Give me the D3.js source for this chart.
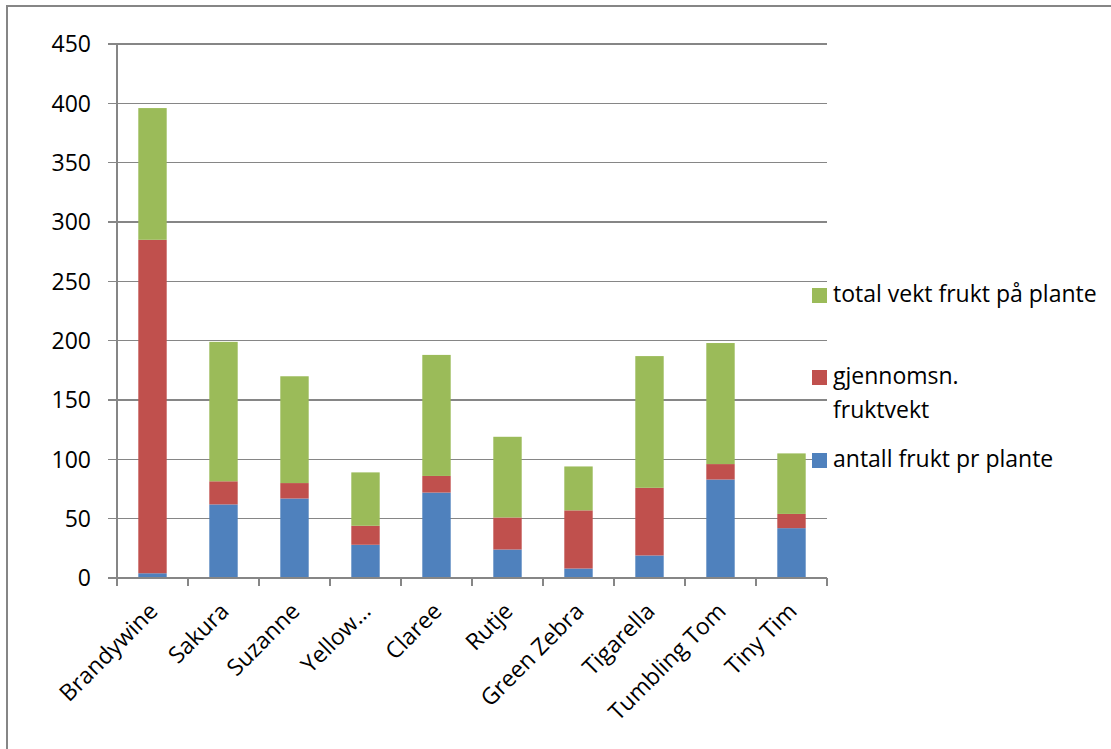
<!DOCTYPE html>
<html>
<head>
<meta charset="utf-8">
<script src="https://cdn.jsdelivr.net/npm/d3@7"></script>
<style>
  html, body { margin: 0; padding: 0; background: #fff; }
  svg { display: block; }
  text { font-family: "Open Sans", "Noto Sans", sans-serif; fill: #000; }
</style>
</head>
<body>
<svg id="chart" width="1111" height="749"></svg>
<script>
// Tomato varieties
const categories = ["Brandywine", "Sakura", "Suzanne", "Yellow…", "Claree", "Rutje", "Green Zebra", "Tigarella", "Tumbling Tom", "Tiny Tim"];
// Series (stacked bottom to top)
const antallFrukt = [4, 62, 67, 28, 72, 24, 8, 19, 83, 42];
const gjennomsnFruktvekt = [281, 19.5, 13, 16, 14, 27, 49, 57, 13, 12];
const totalVekt = [111, 117.5, 90, 45, 102, 68, 37, 111, 102, 51];
const seriesNames = ["antall frukt pr plante", "gjennomsn. fruktvekt", "total vekt frukt på plante"];
const seriesColors = ["#4F81BD", "#C0504D", "#9BBB59"];
const yTicks = [0, 50, 100, 150, 200, 250, 300, 350, 400, 450];

const svg = d3.select("#chart");
const W = 1111, H = 749;
const plot = { left: 117, right: 827, top: 44, bottom: 578 };
const gridColor = "#868686";

// Outer frame
svg.append("rect")
  .attr("x", 7).attr("y", 6)
  .attr("width", W + 20).attr("height", H + 20)
  .attr("fill", "none").attr("stroke", gridColor).attr("stroke-width", 2);

const x = d3.scaleBand().domain(categories).range([plot.left, plot.right]).paddingInner(0).paddingOuter(0);
const y = d3.scaleLinear().domain([0, 450]).range([plot.bottom, plot.top]);

// Horizontal gridlines
svg.append("g")
  .selectAll("line")
  .data(yTicks)
  .join("line")
  .attr("x1", plot.left - 9).attr("x2", plot.right)
  .attr("y1", d => y(d)).attr("y2", d => y(d))
  .attr("stroke", gridColor).attr("stroke-width", 1.5)
  .attr("shape-rendering", "crispEdges");

// Y tick labels
svg.append("g")
  .selectAll("text")
  .data(yTicks)
  .join("text")
  .attr("x", 91).attr("y", d => y(d))
  .attr("dy", "0.36em")
  .attr("text-anchor", "end")
  .attr("font-size", 23)
  .text(d => d);

// Stacked data
const rows = categories.map((c, i) => ({ cat: c, s0: antallFrukt[i], s1: gjennomsnFruktvekt[i], s2: totalVekt[i] }));
const stack = d3.stack().keys(["s0", "s1", "s2"])(rows);

const barW = x.bandwidth() * 0.4;
svg.append("g")
  .selectAll("g")
  .data(stack)
  .join("g")
  .attr("fill", (d, i) => seriesColors[i])
  .selectAll("rect")
  .data(d => d)
  .join("rect")
  .attr("x", d => x(d.data.cat) + (x.bandwidth() - barW) / 2)
  .attr("width", barW)
  .attr("y", d => y(d[1]))
  .attr("height", d => y(d[0]) - y(d[1]));

// Y axis line
svg.append("line")
  .attr("x1", plot.left).attr("x2", plot.left)
  .attr("y1", plot.top).attr("y2", plot.bottom)
  .attr("stroke", gridColor).attr("stroke-width", 1.5)
  .attr("shape-rendering", "crispEdges");

// X axis with tick marks at category boundaries
const xAxis = svg.append("g");
xAxis.append("line")
  .attr("x1", plot.left).attr("x2", plot.right)
  .attr("y1", plot.bottom).attr("y2", plot.bottom)
  .attr("stroke", gridColor).attr("stroke-width", 1.5)
  .attr("shape-rendering", "crispEdges");
const boundaries = categories.map(c => x(c)).concat([plot.right]);
xAxis.selectAll("line.tick")
  .data(boundaries)
  .join("line")
  .attr("class", "tick")
  .attr("x1", d => d).attr("x2", d => d)
  .attr("y1", plot.bottom).attr("y2", plot.bottom + 8)
  .attr("stroke", gridColor).attr("stroke-width", 1.5)
  .attr("shape-rendering", "crispEdges");

// Rotated category labels
xAxis.selectAll("text")
  .data(categories)
  .join("text")
  .attr("transform", d => `translate(${x(d) + x.bandwidth() / 2 + 1},${plot.bottom + 29}) rotate(-45)`)
  .attr("text-anchor", "end")
  .attr("dy", "0.35em")
  .attr("font-size", 23)
  .text(d => d);

// Legend (top to bottom: total, gjennomsn., antall)
const legendItems = [
  { name: seriesNames[2], color: seriesColors[2], lines: ["total vekt frukt på plante"], y: 288 },
  { name: seriesNames[1], color: seriesColors[1], lines: ["gjennomsn.", "fruktvekt"], y: 370 },
  { name: seriesNames[0], color: seriesColors[0], lines: ["antall frukt pr plante"], y: 453 }
];
const legend = svg.append("g");
const li = legend.selectAll("g").data(legendItems).join("g");
li.append("rect")
  .attr("x", 812).attr("y", d => d.y)
  .attr("width", 15).attr("height", 15)
  .attr("fill", d => d.color);
li.each(function(d) {
  const t = d3.select(this).append("text").attr("font-size", 23);
  d.lines.forEach((ln, k) => {
    t.append("tspan").attr("x", 833).attr("y", d.y + 14 + k * 34).text(ln);
  });
});
</script>
</body>
</html>
